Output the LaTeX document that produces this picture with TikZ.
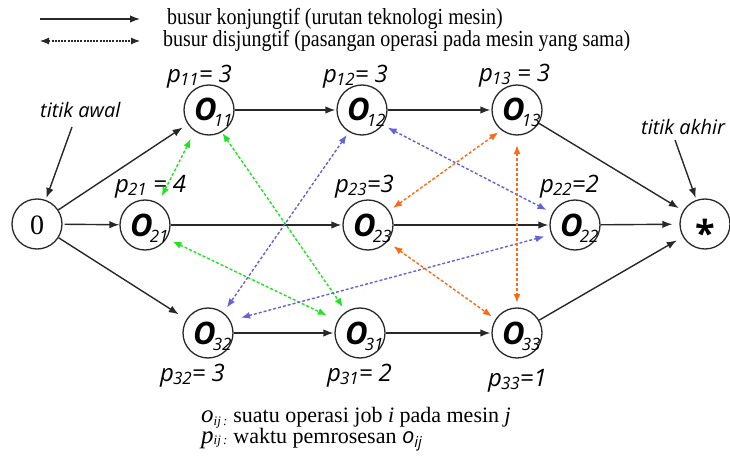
\documentclass[tikz,border=0pt]{standalone}
\usepackage{fontspec}
\setmainfont{Liberation Serif}
\newfontfamily\osans{Open Sans}
\usetikzlibrary{arrows.meta}

\definecolor{cgreen}{RGB}{30,230,30}
\definecolor{cblue}{RGB}{100,100,215}
\definecolor{corange}{RGB}{255,105,20}
\definecolor{cline}{RGB}{40,40,40}

\tikzset{
  opnode/.style={circle, draw=cline, line width=1.3pt, minimum size=50pt, inner sep=0pt},
  conj/.style={draw=cline, line width=1.4pt, -{Latex[length=10pt,width=7.5pt]}},
  disj/.style={line width=1.4pt, dash pattern=on 3pt off 2pt, {Latex[length=9pt,width=7pt]}-{Latex[length=9pt,width=7pt]}},
  legdisj/.style={draw=cline, line width=1.1pt, dash pattern=on 2pt off 1.2pt, {Latex[length=9pt,width=7pt]}-{Latex[length=9pt,width=7pt]}},
  lbl/.style={inner sep=0pt, anchor=base west},
}

\newcommand\Olab[1]{{\osans\bfseries\itshape\fontsize{31}{31}\selectfont O}\kern-3pt\raisebox{-6pt}{\osans\itshape\fontsize{17}{17}\selectfont #1}}
\newcommand\Plab[2]{{\osans\itshape\fontsize{24}{24}\selectfont p\kern-1pt\raisebox{-3pt}{\fontsize{17}{17}\selectfont #1}#2}}
\newcommand\opn[4]{%
  \node[opnode] (#1) at (#2,#3) {};
  \node[lbl] (#1t) at (#2-15,#3+11) {\Olab{#4}};
}
\newcommand\tallser[1]{\scalebox{1}[1.15]{\fontsize{20}{20}\selectfont #1}}

\begin{document}
\begin{tikzpicture}[x=1pt,y=-1pt]
\useasboundingbox (0,0) rectangle (730,457);

% legend
\coordinate (la1) at (40,19);
\coordinate (la2) at (140,19);
\coordinate (lb1) at (40,41);
\coordinate (lb2) at (140,41);
\draw[conj] (la1) -- (la2);
\draw[legdisj] (lb1) -- (lb2);
\node[lbl] (lt1) at (167,25) {\tallser{busur konjungtif (urutan teknologi mesin)}};
\node[lbl] (lt2) at (163,47) {\tallser{busur disjungtif (pasangan operasi pada mesin yang sama)}};

% nodes
\node[opnode] (s) at (37,224) {};
\node[lbl] (st) at (30,234) {\fontsize{28}{28}\selectfont 0};
\opn{O11}{209}{110}{11}
\opn{O12}{362}{110}{12}
\opn{O13}{517}{110}{13}
\opn{O21}{145}{225}{21}
\opn{O23}{368}{225}{23}
\opn{O22}{575}{225}{22}
\opn{O32}{208}{333}{32}
\opn{O31}{360}{333}{31}
\opn{O33}{517}{333}{33}
\node[opnode] (e) at (705,224) {};
\node[lbl] (et) at (695,246) {\osans\bfseries\fontsize{36}{36}\selectfont *};

% processing times
\node[lbl] (p11) at (167,83) {\Plab{11}{= 3}};
\node[lbl] (p12) at (323,83) {\Plab{12}{= 3}};
\node[lbl] (p13) at (479,82) {\Plab{13}{ = 3}};
\node[lbl] (p21) at (115,192) {\Plab{21}{ = 4}};
\node[lbl] (p23) at (335,193) {\Plab{23}{=3}};
\node[lbl] (p22) at (540,193) {\Plab{22}{=2}};
\node[lbl] (p32) at (160,381) {\Plab{32}{= 3}};
\node[lbl] (p31) at (327,381) {\Plab{31}{= 2}};
\node[lbl] (p33) at (488,386) {\Plab{33}{=1}};

% start / end labels
\node[lbl] (ta) at (40,118) {\osans\itshape\fontsize{20}{20}\selectfont titik awal};
\node[lbl] (tk) at (641,135) {\osans\itshape\fontsize{20}{20}\selectfont titik akhir};
\coordinate (taS) at (72,127);
\coordinate (tkS) at (675,140);
\draw[conj, shorten >=2pt] (taS) -- (s);
\draw[conj, shorten >=2pt] (tkS) -- (e);

% conjunctive arcs
\draw[conj, shorten >=6pt] (s) -- (O11);
\draw[conj, shorten <=2pt] (s) -- (O21);
\draw[conj, shorten >=9pt] (s) -- (O32);
\draw[conj, shorten >=1pt] (O11) -- (O12);
\draw[conj, shorten >=1pt] (O12) -- (O13);
\draw[conj, shorten >=5pt] (O13) -- (e);
\draw[conj, shorten >=1pt] (O21) -- (O23);
\draw[conj, shorten >=1pt] (O23) -- (O22);
\draw[conj, shorten >=7pt] (O22) -- (e);
\draw[conj, shorten >=1pt] (O32) -- (O31);
\draw[conj, shorten >=1pt] (O31) -- (O33);
\draw[conj, shorten >=7pt] (O33) -- (e);

% disjunctive arcs
\draw[disj, cgreen, shorten <=8.5pt, shorten >=7.5pt] (O11.236) -- (O21.59);
\draw[disj, cgreen, shorten <=1pt, shorten >=5.5pt] (O11.300) -- (O31.123);
\draw[disj, cgreen, shorten <=6.5pt, shorten >=12pt] (O21.328) -- (O31.151);
\draw[disj, cblue, shorten <=3.5pt, shorten >=6pt] (O12.239) -- (O32.53);
\draw[disj, cblue, shorten <=5.5pt, shorten >=6.5pt] (O12.324) -- (O22.152);
\draw[disj, cblue, shorten <=11pt, shorten >=7pt] (O32.29) -- (O22.202);
\draw[disj, corange, shorten <=3.5pt, shorten >=4.5pt] (O13.232) -- (O23.34);
\draw[disj, corange, shorten <=9.5pt, shorten >=4.5pt] (O13.south) -- (O33.north);
\draw[disj, corange, shorten <=7.5pt, shorten >=4.5pt] (O23.319) -- (O33.147);

% key
\node[lbl] (k1) at (201,422) {\fontsize{22}{22}\selectfont{\fontsize{25}{25}\selectfont\itshape o}\raisebox{-3pt}{\fontsize{13}{13}\selectfont\itshape ij\,:}\hspace{6pt}suatu operasi job \textit{i} pada mesin \textit{j}};
\node[lbl] (k2) at (201,443) {\fontsize{22}{22}\selectfont{\fontsize{25}{25}\selectfont\itshape p}\raisebox{-1pt}{\fontsize{13}{13}\selectfont\itshape ij\,:}\hspace{6pt}waktu pemrosesan {\osans\itshape\fontsize{22}{22}\selectfont o\raisebox{-4pt}{\fontsize{15}{15}\selectfont ij}}};
\end{tikzpicture}
\end{document}
